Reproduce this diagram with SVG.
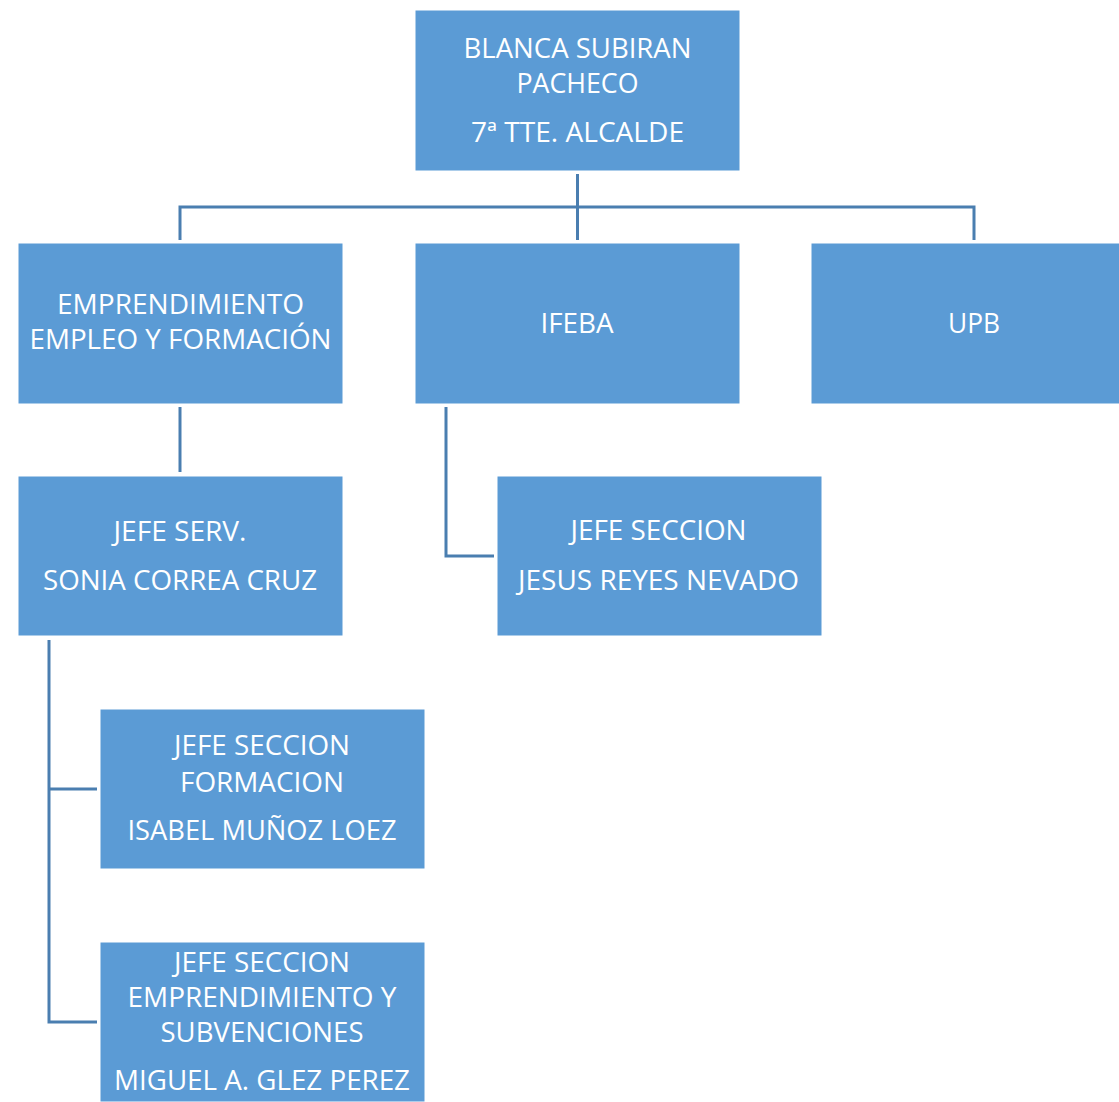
<svg xmlns="http://www.w3.org/2000/svg" width="1119" height="1102" viewBox="0 0 1119 1102">
<style>
.box{fill:#5B9BD5;stroke:#FFFFFF;stroke-width:1}
.t{font-family:"Open Sans","Liberation Sans",sans-serif;font-size:27px;fill:#FFFFFF;text-anchor:middle}
.c{fill:none;stroke:#4A7EB0;stroke-width:3}
</style>
<rect width="1119" height="1102" fill="#FFFFFF"/>
<g id="connectors">
<path class="c" d="M577.5,174 V240"/>
<path class="c" d="M180,240 V207 H974 V240"/>
<path class="c" d="M180,407 V472"/>
<path class="c" d="M446,407 V556 H494"/>
<path class="c" d="M49,640 V1022 H97"/>
<path class="c" d="M49,789 H97"/>
</g>
<g id="n-blanca">
<rect class="box" x="415" y="10" width="325" height="161"/>
<text class="t" x="577.5" y="58" textLength="228" lengthAdjust="spacingAndGlyphs">BLANCA SUBIRAN</text>
<text class="t" x="577.5" y="93" textLength="122" lengthAdjust="spacingAndGlyphs">PACHECO</text>
<text class="t" x="577.5" y="142" textLength="213" lengthAdjust="spacingAndGlyphs">7ª TTE. ALCALDE</text>
</g>
<g id="n-emprendimiento">
<rect class="box" x="18" y="243" width="325" height="161"/>
<text class="t" x="180.5" y="314" textLength="247" lengthAdjust="spacingAndGlyphs">EMPRENDIMIENTO</text>
<text class="t" x="180.5" y="349" textLength="302" lengthAdjust="spacingAndGlyphs">EMPLEO Y FORMACIÓN</text>
</g>
<g id="n-ifeba">
<rect class="box" x="415" y="243" width="325" height="161"/>
<text class="t" x="577" y="333" textLength="73" lengthAdjust="spacingAndGlyphs">IFEBA</text>
</g>
<g id="n-upb">
<rect class="box" x="811" y="243" width="326" height="161"/>
<text class="t" x="974" y="333" textLength="52" lengthAdjust="spacingAndGlyphs">UPB</text>
</g>
<g id="n-sonia">
<rect class="box" x="18" y="476" width="325" height="160"/>
<text class="t" x="180" y="541" textLength="133" lengthAdjust="spacingAndGlyphs">JEFE SERV.</text>
<text class="t" x="180" y="590" textLength="274" lengthAdjust="spacingAndGlyphs">SONIA CORREA CRUZ</text>
</g>
<g id="n-jesus">
<rect class="box" x="497" y="476" width="325" height="160"/>
<text class="t" x="658.5" y="540" textLength="176" lengthAdjust="spacingAndGlyphs">JEFE SECCION</text>
<text class="t" x="658.5" y="590" textLength="281" lengthAdjust="spacingAndGlyphs">JESUS REYES NEVADO</text>
</g>
<g id="n-isabel">
<rect class="box" x="100" y="709" width="325" height="160"/>
<text class="t" x="262" y="755" textLength="176" lengthAdjust="spacingAndGlyphs">JEFE SECCION</text>
<text class="t" x="262" y="792" textLength="164" lengthAdjust="spacingAndGlyphs">FORMACION</text>
<text class="t" x="262" y="840" textLength="269" lengthAdjust="spacingAndGlyphs">ISABEL MUÑOZ LOEZ</text>
</g>
<g id="n-miguel">
<rect class="box" x="100" y="942" width="325" height="160"/>
<text class="t" x="262" y="972" textLength="176" lengthAdjust="spacingAndGlyphs">JEFE SECCION</text>
<text class="t" x="262" y="1007" textLength="269" lengthAdjust="spacingAndGlyphs">EMPRENDIMIENTO Y</text>
<text class="t" x="262" y="1042" textLength="203" lengthAdjust="spacingAndGlyphs">SUBVENCIONES</text>
<text class="t" x="262" y="1090" textLength="296" lengthAdjust="spacingAndGlyphs">MIGUEL A. GLEZ PEREZ</text>
</g>
</svg>
